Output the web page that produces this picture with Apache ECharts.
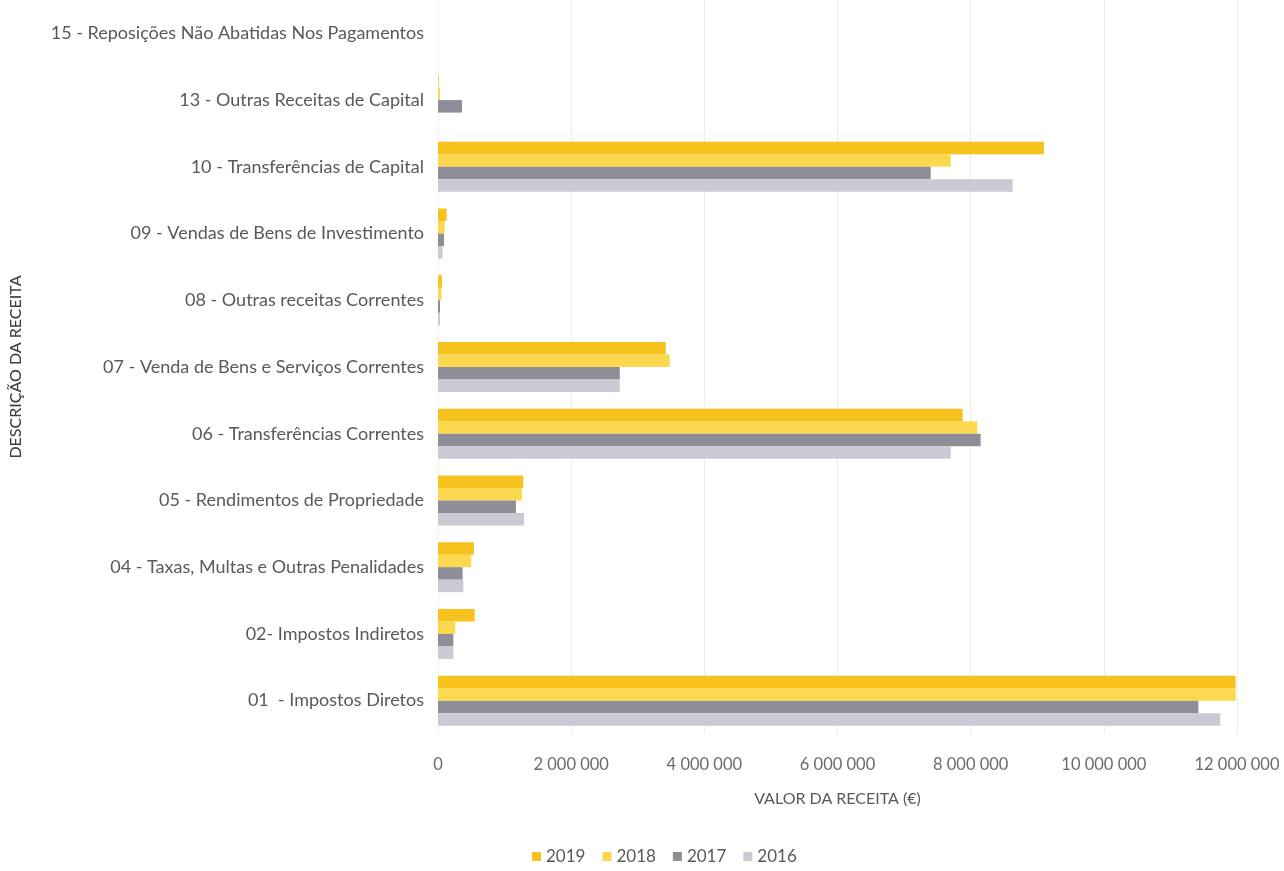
<!DOCTYPE html>
<html>
<head>
<meta charset="utf-8">
<script src="https://cdn.jsdelivr.net/npm/echarts@6/dist/echarts.min.js"></script>
<style>
html,body{margin:0;padding:0;background:#fff;}
#chart{width:1284px;height:871px;}
</style>
</head>
<body>
<div id="chart"></div>
<script>
const categories = [
  '01  - Impostos Diretos',
  '02- Impostos Indiretos',
  '04 - Taxas, Multas e Outras Penalidades',
  '05 - Rendimentos de Propriedade',
  '06 - Transferências Correntes',
  '07 - Venda de Bens e Serviços Correntes',
  '08 - Outras receitas Correntes',
  '09 - Vendas de Bens de Investimento',
  '10 - Transferências de Capital',
  '13 - Outras Receitas de Capital',
  '15 - Reposições Não Abatidas Nos Pagamentos'
];
const years = ['2019', '2018', '2017', '2016'];
const values2019 = [11980000, 550000, 540000, 1280000, 7880000, 3420000, 60000, 130000, 9100000, 10000, 0];
const values2018 = [11980000, 260000, 500000, 1260000, 8100000, 3480000, 50000, 100000, 7700000, 30000, 0];
const values2017 = [11420000, 230000, 370000, 1170000, 8150000, 2730000, 30000, 90000, 7400000, 360000, 0];
const values2016 = [11750000, 230000, 380000, 1290000, 7700000, 2730000, 30000, 70000, 8630000, 0, 0];
const xTicks = [0, 2000000, 4000000, 6000000, 8000000, 10000000, 12000000];
const colors = ['#F7C21E', '#FBD84E', '#8E8E99', '#CACAD4'];

const seriesData = [values2019, values2018, values2017, values2016];
const fmt = v => String(v).replace(/\B(?=(\d{3})+(?!\d))/g, ' ');
const font = 'Lato, "Open Sans", sans-serif';

const chart = echarts.init(document.getElementById('chart'));
chart.setOption({
  animation: false,
  color: colors,
  grid: { left: 438, right: 47, top: -5, bottom: 137, containLabel: false },
  legend: {
    data: years,
    bottom: 1,
    left: 527,
    itemWidth: 9,
    itemHeight: 9,
    itemGap: 17,
    icon: 'rect',
    textStyle: { color: '#595959', fontSize: 17, fontFamily: font }
  },
  xAxis: {
    type: 'value',
    min: xTicks[0],
    max: xTicks[xTicks.length - 1],
    interval: 2000000,
    name: 'VALOR DA RECEITA (€)',
    nameLocation: 'middle',
    nameGap: 57,
    nameTextStyle: { color: '#595959', fontSize: 16, fontFamily: font },
    axisLine: { show: false },
    axisTick: { show: false },
    axisLabel: { color: '#6b6b6b', fontSize: 16.5, fontFamily: font, margin: 22, formatter: v => fmt(v) },
    splitLine: { show: true, lineStyle: { color: '#EDEDF0', width: 1 } }
  },
  yAxis: {
    type: 'category',
    data: categories,
    name: 'DESCRIÇÃO DA RECEITA',
    nameLocation: 'middle',
    nameGap: 414,
    nameRotate: 90,
    nameTextStyle: { color: '#3f3f3f', fontSize: 16, fontFamily: font, fontWeight: 500 },
    axisLine: { show: true, lineStyle: { color: '#F0F0F2' } },
    axisTick: { show: false },
    axisLabel: { color: '#595959', fontSize: 18, fontFamily: font, margin: 14 },
    splitLine: { show: false }
  },
  series: years.map((y, i) => ({
    name: y,
    type: 'bar',
    data: seriesData[i],
    barWidth: 12.5,
    barGap: '0%',
    itemStyle: { color: colors[i] }
  }))
});
</script>
</body>
</html>
